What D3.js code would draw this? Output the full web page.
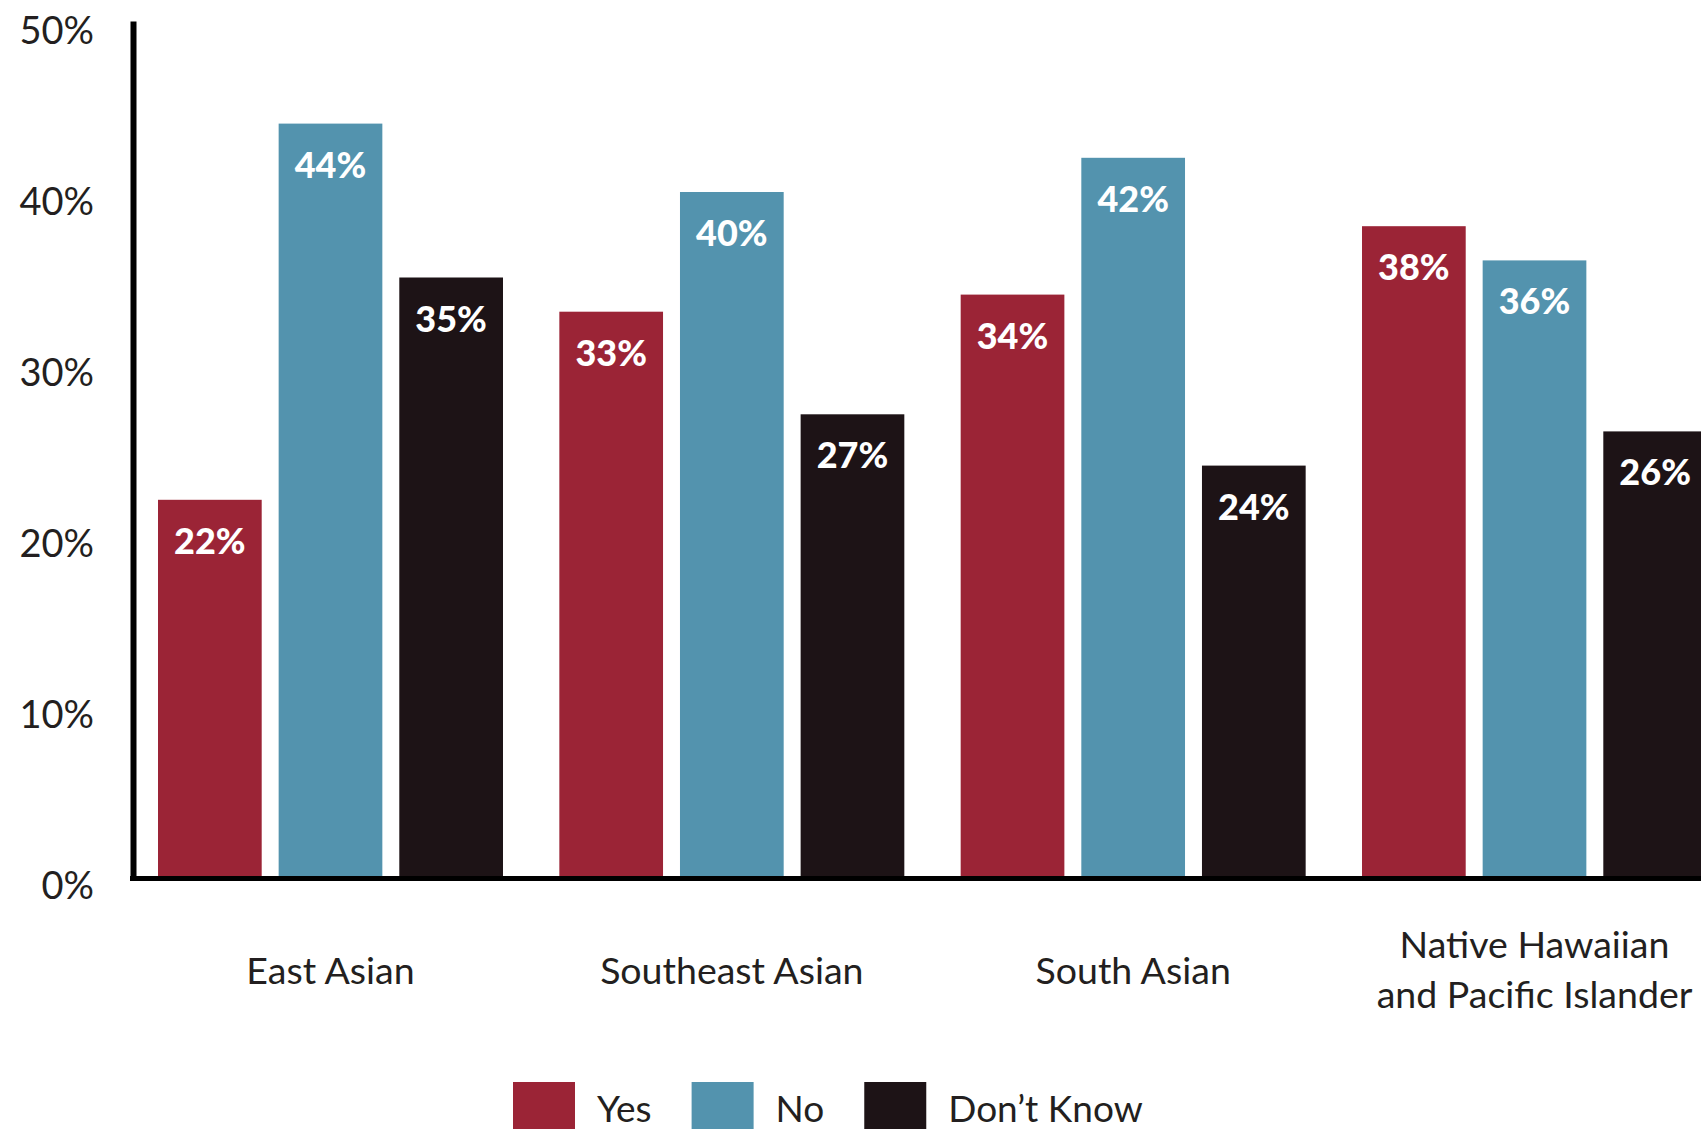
<!DOCTYPE html>
<html>
<head>
<meta charset="utf-8">
<script src="https://cdn.jsdelivr.net/npm/d3@7"></script>
<style>
  html, body { margin: 0; padding: 0; background: #ffffff; }
  svg { display: block; font-family: Lato, "Noto Sans", sans-serif; }
</style>
</head>
<body>
<svg id="chart" width="1701" height="1129"></svg>
<script>
// Survey responses by group
const categories = [["East Asian"], ["Southeast Asian"], ["South Asian"], ["Native Hawaiian", "and Pacific Islander"]];
const series = ["Yes", "No", "Don\u2019t Know"];
const yesValues = [22, 33, 34, 38];
const noValues = [44, 40, 42, 36];
const dontKnowValues = [35, 27, 24, 26];
const yTicks = [0, 10, 20, 30, 40, 50];
const seriesColors = ["#9b2436", "#5393ae", "#1d1316"];

const seriesValues = [yesValues, noValues, dontKnowValues];
const catKeys = categories.map(c => c.join(" "));
const rows = catKeys.map((key, i) => ({
  key,
  lines: categories[i],
  values: series.map((s, j) => ({ series: s, value: seriesValues[j][i], color: seriesColors[j] }))
}));

const svg = d3.select("#chart");
const W = 1701, H = 1129;
const axisX = 133;
const baseY = 876;
const textColor = "#231f20";

const y = d3.scaleLinear().domain([0, 50]).range([baseY, 21]);
const x0 = d3.scaleBand().domain(catKeys).range([158, 1707]).paddingInner(0.1404).paddingOuter(0);
const x1 = d3.scaleBand().domain(series).range([0, x0.bandwidth()]).paddingInner(0.1405).paddingOuter(0);

// Bars
const groups = svg.append("g").selectAll("g")
  .data(rows).join("g")
  .attr("transform", d => `translate(${x0(d.key)},0)`);

groups.selectAll("rect")
  .data(d => d.values).join("rect")
  .attr("x", d => x1(d.series))
  .attr("y", d => y(d.value))
  .attr("width", x1.bandwidth())
  .attr("height", d => baseY - y(d.value))
  .attr("fill", d => d.color);

// Value labels inside bars
groups.selectAll("text.val")
  .data(d => d.values).join("text")
  .attr("class", "val")
  .attr("x", d => x1(d.series) + x1.bandwidth() / 2)
  .attr("y", d => y(d.value) + 54)
  .attr("text-anchor", "middle")
  .attr("fill", "#ffffff")
  .attr("font-size", 36)
  .attr("font-weight", 900)
  .text(d => d.value + "%");

// Y axis
const yAxis = d3.axisLeft(y).tickValues(yTicks).tickFormat(d => d + "%").tickSize(0).tickPadding(39);
const gy = svg.append("g").attr("transform", `translate(${axisX},0)`).call(yAxis);
gy.select(".domain").attr("stroke", "#000").attr("stroke-width", 6);
gy.selectAll(".tick text")
  .attr("font-size", 38)
  .attr("font-family", "Lato, 'Noto Sans', sans-serif")
  .attr("fill", textColor)
  .attr("dy", "0.6em");

// Baseline
svg.append("line")
  .attr("x1", axisX - 3).attr("x2", W)
  .attr("y1", y(0) + 2.5).attr("y2", y(0) + 2.5)
  .attr("stroke", "#000").attr("stroke-width", 5);

// Category labels
const catLabels = svg.append("g").selectAll("text")
  .data(rows).join("text")
  .attr("text-anchor", "middle")
  .attr("font-size", 37.5)
  .attr("fill", textColor)
  .attr("transform", d => `translate(${x0(d.key) + x0.bandwidth() / 2},${984 - (d.lines.length - 1) * 26})`);
catLabels.selectAll("tspan")
  .data(d => d.lines).join("tspan")
  .attr("x", 0)
  .attr("dy", (d, i) => i === 0 ? 0 : 50)
  .text(d => d);

// Legend
const legend = svg.append("g").attr("transform", "translate(513,1082)");
let lx = 0;
series.forEach((s, i) => {
  const item = legend.append("g").attr("transform", `translate(${lx},0)`);
  item.append("rect").attr("width", 62).attr("height", 62).attr("fill", seriesColors[i]);
  const t = item.append("text")
    .attr("x", 62 + 22).attr("y", 40)
    .attr("font-size", 37)
    .attr("fill", textColor)
    .text(s);
  lx += 62 + 22 + t.node().getComputedTextLength() + 40;
});
</script>
</body>
</html>
